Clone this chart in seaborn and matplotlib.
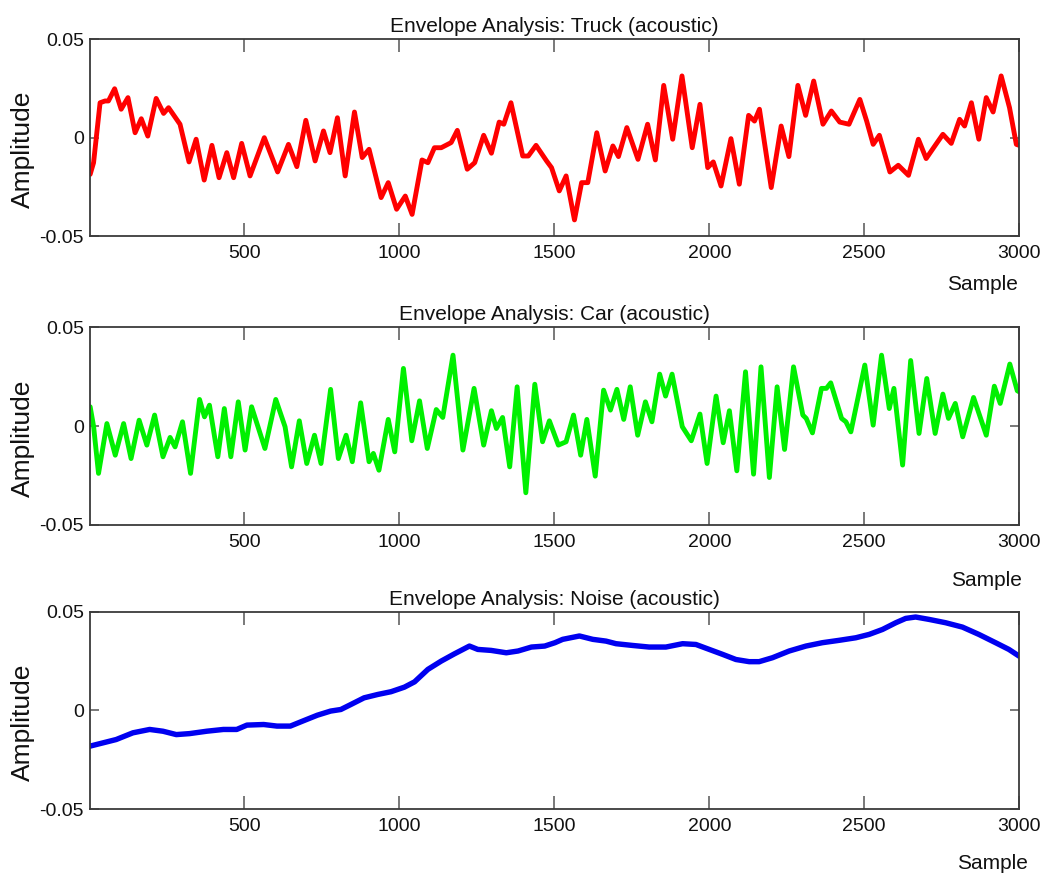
import matplotlib
matplotlib.use("Agg")
import matplotlib.pyplot as plt
import pandas as pd
import seaborn as sns

# Envelope of each acoustic recording (sample index, amplitude)
truck_sample = [2, 13, 34, 50, 61, 81, 102, 124, 147, 167, 188, 215, 239, 255, 292, 321, 344, 370,
                395, 418, 443, 465, 491, 518, 564, 607, 642, 669, 698, 728, 755, 776, 800, 825, 855,
                880, 902, 941, 964, 991, 1019, 1041, 1073, 1092, 1113, 1135, 1167, 1187, 1219, 1243,
                1272, 1297, 1322, 1337, 1360, 1398, 1416, 1441, 1475, 1491, 1516, 1538, 1565, 1588,
                1608, 1637, 1664, 1689, 1707, 1734, 1770, 1801, 1826, 1853, 1882, 1912, 1945, 1970,
                1995, 2013, 2038, 2070, 2097, 2127, 2146, 2162, 2200, 2232, 2257, 2286, 2311, 2337,
                2367, 2394, 2421, 2451, 2486, 2508, 2529, 2549, 2583, 2610, 2643, 2675, 2700, 2724,
                2754, 2781, 2808, 2824, 2846, 2870, 2894, 2916, 2942, 2969, 2991, 3000]
truck_amp = [-0.0186, -0.0127, 0.0177, 0.0186, 0.0186, 0.0248, 0.0144, 0.0203, 0.0025, 0.0096,
             0.0008, 0.0199, 0.0123, 0.0152, 0.0068, -0.0123, -0.0008, -0.0215, -0.0039, -0.0203,
             -0.0076, -0.0203, -0.0029, -0.0194, 0.0000, -0.0174, -0.0034, -0.0147, 0.0088, -0.0118,
             0.0034, -0.0076, 0.0101, -0.0194, 0.0130, -0.0101, -0.0059, -0.0304, -0.0228, -0.0363,
             -0.0296, -0.0389, -0.0113, -0.0127, -0.0051, -0.0051, -0.0025, 0.0037, -0.0160, -0.0127,
             0.0012, -0.0079, 0.0079, 0.0068, 0.0177, -0.0093, -0.0093, -0.0039, -0.0118, -0.0152,
             -0.0270, -0.0194, -0.0417, -0.0228, -0.0228, 0.0025, -0.0169, -0.0042, -0.0096, 0.0051,
             -0.0110, 0.0068, -0.0113, 0.0265, -0.0008, 0.0313, -0.0051, 0.0169, -0.0152, -0.0123,
             -0.0245, -0.0005, -0.0236, 0.0113, 0.0084, 0.0144, -0.0253, 0.0059, -0.0096, 0.0265,
             0.0113, 0.0287, 0.0068, 0.0135, 0.0079, 0.0068, 0.0194, 0.0084, -0.0034, 0.0012,
             -0.0174, -0.0140, -0.0191, -0.0008, -0.0106, -0.0051, 0.0017, -0.0029, 0.0093, 0.0059,
             0.0177, -0.0008, 0.0203, 0.0130, 0.0313, 0.0152, -0.0034, -0.0039]

car_sample = [2, 13, 29, 56, 83, 110, 134, 160, 185, 210, 237, 260, 276, 300, 326, 355, 371, 387,
              414, 435, 456, 480, 502, 523, 566, 601, 631, 652, 677, 701, 726, 747, 778, 803, 828,
              848, 875, 902, 916, 934, 964, 985, 1013, 1040, 1065, 1090, 1119, 1140, 1173, 1205,
              1241, 1272, 1297, 1313, 1333, 1356, 1380, 1408, 1437, 1462, 1484, 1513, 1538, 1562,
              1585, 1605, 1632, 1659, 1681, 1702, 1724, 1745, 1769, 1794, 1815, 1840, 1859, 1880,
              1913, 1942, 1970, 1993, 2022, 2045, 2065, 2089, 2117, 2143, 2167, 2194, 2219, 2243,
              2272, 2302, 2313, 2333, 2362, 2378, 2392, 2427, 2441, 2457, 2502, 2529, 2556, 2581,
              2596, 2624, 2650, 2677, 2702, 2729, 2754, 2772, 2794, 2818, 2853, 2894, 2920, 2939,
              2970, 2994, 3000]
car_amp = [0.0098, 0.0000, -0.0239, 0.0013, -0.0147, 0.0013, -0.0164, 0.0030, -0.0096, 0.0056,
           -0.0155, -0.0057, -0.0105, 0.0022, -0.0239, 0.0135, 0.0047, 0.0106, -0.0155, 0.0089,
           -0.0155, 0.0123, -0.0121, 0.0098, -0.0113, 0.0135, -0.0003, -0.0206, 0.0027, -0.0189,
           -0.0046, -0.0189, 0.0186, -0.0164, -0.0046, -0.0180, 0.0118, -0.0180, -0.0138, -0.0223,
           0.0034, -0.0130, 0.0292, -0.0074, 0.0128, -0.0113, 0.0084, 0.0044, 0.0359, -0.0121,
           0.0191, -0.0096, 0.0078, -0.0012, 0.0044, -0.0206, 0.0199, -0.0337, 0.0212, -0.0079,
           0.0027, -0.0096, -0.0079, 0.0056, -0.0147, 0.0034, -0.0253, 0.0182, 0.0081, 0.0186,
           0.0034, 0.0199, -0.0046, 0.0123, 0.0022, 0.0263, 0.0152, 0.0263, -0.0003, -0.0074,
           0.0061, -0.0189, 0.0152, -0.0084, 0.0078, -0.0226, 0.0275, -0.0243, 0.0300, -0.0260,
           0.0199, -0.0118, 0.0300, 0.0056, 0.0039, -0.0034, 0.0191, 0.0191, 0.0219, 0.0039,
           0.0022, -0.0029, 0.0309, 0.0005, 0.0359, 0.0089, 0.0191, -0.0197, 0.0332, -0.0037,
           0.0241, -0.0037, 0.0162, 0.0039, 0.0115, -0.0054, 0.0145, -0.0046, 0.0202, 0.0115,
           0.0314, 0.0179, 0.0174]

noise_sample = [0, 43, 86, 140, 194, 237, 280, 323, 378, 432, 475, 508, 562, 605, 648, 692, 735,
                778, 811, 843, 886, 930, 973, 1016, 1049, 1092, 1135, 1178, 1226, 1253, 1296, 1345,
                1383, 1426, 1469, 1502, 1527, 1581, 1624, 1667, 1699, 1753, 1806, 1860, 1914, 1957,
                2000, 2043, 2086, 2129, 2161, 2204, 2258, 2312, 2365, 2419, 2473, 2516, 2559, 2602,
                2634, 2666, 2709, 2763, 2817, 2870, 2924, 2967, 3000]
noise_amp = [-0.0181, -0.0164, -0.0147, -0.0113, -0.0096, -0.0105, -0.0122, -0.0117, -0.0105,
             -0.0096, -0.0096, -0.0074, -0.0071, -0.0079, -0.0079, -0.0051, -0.0024, -0.0003,
             0.0005, 0.0030, 0.0064, 0.0081, 0.0095, 0.0118, 0.0145, 0.0208, 0.0250, 0.0287,
             0.0326, 0.0309, 0.0304, 0.0292, 0.0301, 0.0321, 0.0326, 0.0343, 0.0360, 0.0377,
             0.0360, 0.0351, 0.0338, 0.0329, 0.0321, 0.0321, 0.0338, 0.0334, 0.0309, 0.0284,
             0.0258, 0.0247, 0.0247, 0.0267, 0.0301, 0.0326, 0.0343, 0.0355, 0.0368, 0.0385,
             0.0410, 0.0444, 0.0466, 0.0473, 0.0461, 0.0444, 0.0422, 0.0385, 0.0343, 0.0309,
             0.0275]

panel_titles = ["Envelope Analysis: Truck (acoustic)",
                "Envelope Analysis: Car (acoustic)",
                "Envelope Analysis: Noise (acoustic)"]
line_colors = ["#FF0000", "#00F000", "#0000F0"]
x_ticks = [500, 1000, 1500, 2000, 2500, 3000]
y_ticks = [-0.05, 0, 0.05]
y_tick_labels = ["-0.05", "0", "0.05"]

sns.set_style("white")
plt.rcParams["font.family"] = ["Liberation Sans", "DejaVu Sans"]

fig = plt.figure(figsize=(10.46, 8.81), dpi=100)
fig.patch.set_facecolor("white")

# axes rectangles [left, bottom, width, height] in figure fractions
boxes = [[0.0856, 0.7318, 0.8887, 0.2239],
         [0.0856, 0.4041, 0.8887, 0.2244],
         [0.0856, 0.0814, 0.8887, 0.2243]]
# "Sample" label position (axes fraction) for each panel
sample_label_xy = [(0.9986, -0.242), (1.0029, -0.283), (1.0094, -0.272)]
line_widths = [3.5, 3.5, 3.9]

series = [(truck_sample, truck_amp), (car_sample, car_amp), (noise_sample, noise_amp)]

for i, (xs, ys) in enumerate(series):
    ax = fig.add_axes(boxes[i])
    df = pd.DataFrame({"Sample": xs, "Amplitude": ys})
    sns.lineplot(data=df, x="Sample", y="Amplitude", ax=ax, color=line_colors[i],
                 linewidth=line_widths[i], solid_joinstyle="round", solid_capstyle="round")
    ax.set_xlim(0, 3000)
    ax.set_ylim(-0.05, 0.05)
    ax.set_xticks(x_ticks)
    ax.set_xticklabels([str(t) for t in x_ticks])
    ax.set_yticks(y_ticks)
    ax.set_yticklabels(y_tick_labels)

    for side in ["top", "bottom", "left", "right"]:
        ax.spines[side].set_visible(True)
        ax.spines[side].set_color("#3a3a3a")
        ax.spines[side].set_linewidth(1.3)

    ax.tick_params(axis="x", which="both", direction="in", length=9.5, width=1.1,
                   color="#555555", top=True, bottom=True, labelsize=14, pad=6.5,
                   labelcolor="#111111")
    ax.tick_params(axis="y", which="both", direction="in", length=6.5, width=1.1,
                   color="#555555", left=True, right=True, labelsize=14, pad=4,
                   labelcolor="#111111")

    ax.set_title(panel_titles[i], fontsize=15, pad=5, color="#111111")
    ax.set_xlabel("Sample", fontsize=15, ha="right", va="center", color="#111111")
    ax.xaxis.set_label_coords(*sample_label_xy[i])
    ax.set_ylabel("Amplitude", fontsize=19, va="center", color="#111111")
    ax.yaxis.set_label_coords(-0.0718, 0.44)
    ax.set_facecolor("white")

fig.savefig("out.png", dpi=100, facecolor="white")
